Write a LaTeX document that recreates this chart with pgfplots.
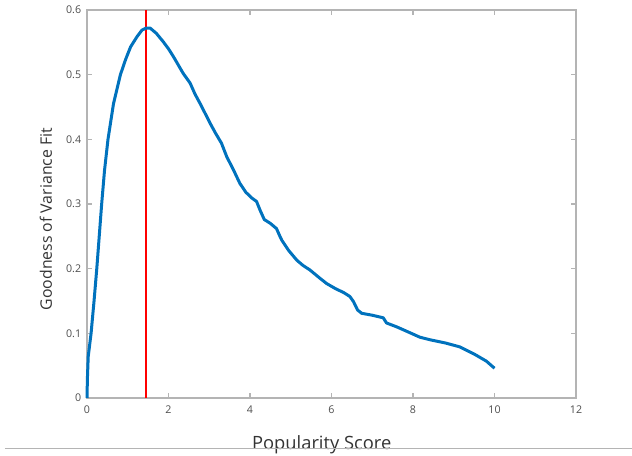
\documentclass[border=0pt]{standalone}
\usepackage{fontspec}
\setmainfont{Open Sans}
\usepackage{pgfplots}
\pgfplotsset{compat=1.18}
\definecolor{mblue}{HTML}{0072BD}
\definecolor{axgray}{HTML}{B4B4B4}
\definecolor{lblgray}{HTML}{4D4D4D}
\begin{document}
\begin{tikzpicture}[x=1pt,y=1pt]
\def\u{0.6pt}
\begin{axis}[
    scale only axis,
    width=293.4pt, height=232.8pt,
    xmin=0, xmax=12, ymin=0, ymax=0.6,
    xtick={0,2,...,12}, ytick={0,0.1,...,0.6},
    yticklabels={0,0.1,0.2,0.3,0.4,0.5,0.6},
    tick align=inside, major tick length=3pt,
    axis line style={axgray, line width=0.7pt},
    tick style={axgray, line width=0.7pt},
    ticklabel style={font=\fontsize{6.4}{7}\selectfont, text=lblgray},
    /pgf/number format/assume math mode=true,
    xticklabel style={yshift=-1pt},
    xlabel={Popularity Score}, ylabel={Goodness of Variance Fit},
    xlabel style={font=\fontsize{11}{12}\selectfont, text=black!80,
        at={(0.48,0)}, anchor=base, yshift=-31pt},
    ylabel style={font=\fontsize{9.5}{11}\selectfont, text=black!80,
        at={(ticklabel cs:0.461)}, yshift=1.6pt},
    clip=false,
]
\coordinate (sw) at (rel axis cs:0,0);
\coordinate (ne) at (rel axis cs:1,1);
\addplot[red, line width=1.2pt] coordinates {(1.45,0) (1.45,0.6)};
\addplot[mblue, line width=1.8pt, line join=round] coordinates {
(0,0) (0.01,0.03) (0.03,0.064) (0.1,0.1) (0.17,0.148) (0.24,0.2)
(0.3,0.25) (0.36,0.3) (0.43,0.352) (0.515,0.4) (0.65,0.455) (0.82,0.5)
(0.95,0.524) (1.07,0.543) (1.23,0.559) (1.35,0.569) (1.45,0.572)
(1.55,0.572) (1.7,0.564) (1.87,0.551) (2.0,0.54) (2.12,0.528) (2.24,0.515)
(2.36,0.502) (2.53,0.487) (2.65,0.47) (2.77,0.456) (2.9,0.44) (3.02,0.425)
(3.15,0.41) (3.3,0.394) (3.43,0.373) (3.6,0.352) (3.75,0.332) (3.9,0.318)
(4.05,0.309) (4.16,0.304) (4.25,0.29) (4.35,0.276) (4.5,0.27) (4.65,0.262)
(4.72,0.252) (4.78,0.244) (4.95,0.228) (5.15,0.213) (5.3,0.205) (5.47,0.198)
(5.7,0.186) (5.88,0.177) (6.1,0.169) (6.3,0.163) (6.45,0.157) (6.54,0.149)
(6.64,0.136) (6.74,0.131) (7.0,0.128) (7.27,0.124) (7.35,0.116) (7.6,0.11)
(7.85,0.103) (8.17,0.094) (8.42,0.09) (8.8,0.085) (9.15,0.079) (9.5,0.068)
(9.8,0.057) (10.0,0.046)
};
\end{axis}
\draw[axgray, line width=0.6pt] ([xshift=-82*\u, yshift=-51*\u]sw) -- ([xshift=56*\u, yshift=-51*\u]sw -| ne);
\pgfresetboundingbox
\path ([xshift=-87*\u, yshift=-58*\u]sw) rectangle ([xshift=56*\u, yshift=10*\u]ne);
\end{tikzpicture}
\end{document}
